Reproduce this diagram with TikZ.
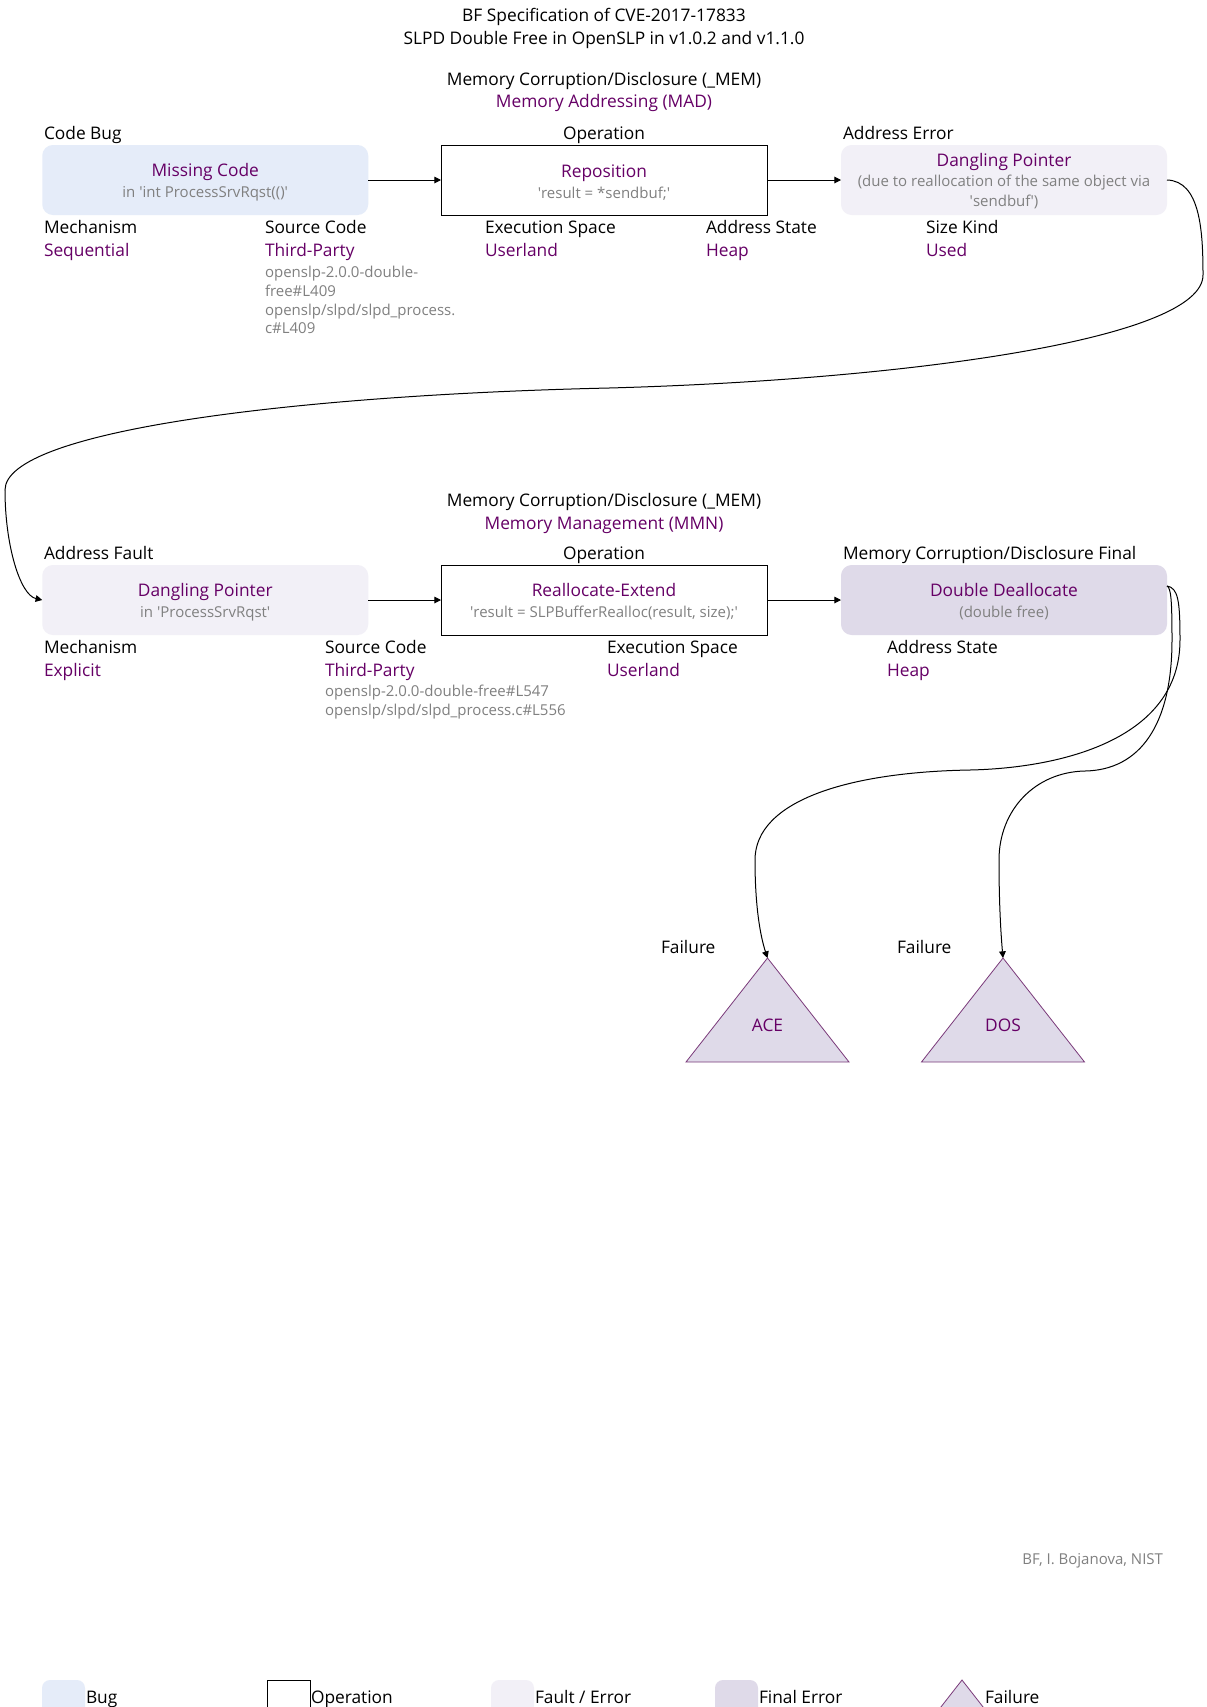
\documentclass[tikz,border=0pt]{standalone}
\usepackage{fontspec}
\setmainfont{Open Sans}
\usetikzlibrary{arrows.meta,calc}
\definecolor{vpurple}{HTML}{660066}
\definecolor{tpurple}{HTML}{7A3A7A}
\definecolor{tgray}{HTML}{808080}
\definecolor{bugfill}{HTML}{E5ECF9}
\definecolor{faultfill}{HTML}{F2F0F7}
\definecolor{finalfill}{HTML}{DFDAE9}
\pgfdeclarelayer{bg}\pgfsetlayers{bg,main}
\newcommand\fA{\fontsize{13pt}{15.75pt}\selectfont}
\newcommand\fB{\fontsize{11.25pt}{15.75pt}\selectfont}
\newcommand\fC{\fontsize{11.25pt}{15.25pt}\selectfont}
\newcommand\sq{\textquotesingle}
\newcommand\boxstrut{\rule{0pt}{12.75pt}}
\begin{document}
\begin{tikzpicture}[x=0.75pt,y=-0.75pt,
  every node/.style={inner sep=0pt, outer sep=0pt},
  lbl/.style={anchor=base west, font=\fA, text=black},
  val/.style={anchor=base west, font=\fA, text=vpurple},
  src/.style={anchor=base west, font=\fB, text=tgray},
  hdr/.style={anchor=base, font=\fA, text=black},
  box/.style={minimum width=326*0.75pt, minimum height=70*0.75pt, align=center, font=\fB, text=tgray},
  bugbox/.style={box, rounded corners=8pt, fill=bugfill},
  faultbox/.style={box, rounded corners=8pt, fill=faultfill},
  finalbox/.style={box, rounded corners=8pt, fill=finalfill},
  opbox/.style={box, draw=black, line width=0.75pt},
  arr/.style={draw=black, line width=0.75pt, -{Triangle[length=5pt,width=5pt]}},
  tri/.style={minimum width=163*0.75pt, minimum height=104*0.75pt},
  tritext/.style={font=\fA, text=vpurple},
  trishape/.style={fill=finalfill, draw=tpurple, line width=0.6pt},
  legsq/.style={minimum width=43*0.75pt, minimum height=43*0.75pt, anchor=north west, rounded corners=6pt},
]
\useasboundingbox (0,0) rectangle (1207,1707);
\clip (0,0) rectangle (1207,1707);
\begin{pgfonlayer}{bg}
\fill[white] (0,0) rectangle (1207,1707);
\end{pgfonlayer}

% titles
\node[hdr] (t1) at (604,21) {BF Specification of CVE-2017-17833};
\node[hdr] (t2) at (604,44) {SLPD Double Free in OpenSLP in v1.0.2 and v1.1.0};

% ---- row 1 ----
\node[hdr] (c1) at (604,85) {Memory Corruption/Disclosure (\_MEM)};
\node[hdr,text=vpurple] (c1b) at (604,107) {Memory Addressing (MAD)};
\node[lbl] (h1a) at (44,139) {Code Bug};
\node[hdr] (h1b) at (604,139) {Operation};
\node[lbl] (h1c) at (843,139) {Address Error};

\node[bugbox] (mc) at (205.25,180) {{\boxstrut\fA\color{vpurple}Missing Code}\\in \sq int ProcessSrvRqst(()\sq};
\node[opbox] (rep) at (604,180) {{\boxstrut\fA\color{vpurple}Reposition}\\\sq result = *sendbuf;\sq};
\node[faultbox,font=\fC] (dp1) at (1004,180) {{\rule{0pt}{11.5pt}\fA\color{vpurple}Dangling Pointer}\\(due to reallocation of the same object via\\\sq sendbuf\sq)};

\node[lbl] (m1) at (44,233) {Mechanism};
\node[val] (m1v) at (44,256) {Sequential};
\node[lbl] (s1) at (265,233) {Source Code};
\node[val] (s1v) at (265,256) {Third-Party};
\node[src] (s1a) at (265,277) {openslp-2.0.0-double-};
\node[src] (s1b) at (265,296) {free\#L409};
\node[src] (s1c) at (265,315) {openslp/slpd/slpd\_process.};
\node[src] (s1d) at (265,333) {c\#L409};
\node[lbl] (e1) at (485,233) {Execution Space};
\node[val] (e1v) at (485,256) {Userland};
\node[lbl] (a1) at (706,233) {Address State};
\node[val] (a1v) at (706,256) {Heap};
\node[lbl] (k1) at (926,233) {Size Kind};
\node[val] (k1v) at (926,256) {Used};

% ---- row 2 ----
\node[hdr] (c2) at (604,506) {Memory Corruption/Disclosure (\_MEM)};
\node[hdr,text=vpurple] (c2b) at (604,529) {Memory Management (MMN)};
\node[lbl] (h2a) at (44,559) {Address Fault};
\node[hdr] (h2b) at (604,559) {Operation};
\node[lbl] (h2c) at (843,559) {Memory Corruption/Disclosure Final};

\node[faultbox] (dp2) at (205.25,600) {{\boxstrut\fA\color{vpurple}Dangling Pointer}\\in \sq ProcessSrvRqst\sq};
\node[opbox] (ra) at (604,600) {{\boxstrut\fA\color{vpurple}Reallocate-Extend}\\\sq result = SLPBufferRealloc(result, size);\sq};
\node[finalbox] (dd) at (1004,600) {{\boxstrut\fA\color{vpurple}Double Deallocate}\\(double free)};

\node[lbl] (m2) at (44,653) {Mechanism};
\node[val] (m2v) at (44,676) {Explicit};
\node[lbl] (s2) at (325,653) {Source Code};
\node[val] (s2v) at (325,676) {Third-Party};
\node[src] (s2a) at (325,696) {openslp-2.0.0-double-free\#L547};
\node[src] (s2b) at (325,715) {openslp/slpd/slpd\_process.c\#L556};
\node[lbl] (e2) at (607,653) {Execution Space};
\node[val] (e2v) at (607,676) {Userland};
\node[lbl] (a2) at (887,653) {Address State};
\node[val] (a2v) at (887,676) {Heap};

% ---- failures ----
\node[lbl] (f1) at (661,953) {Failure};
\node[lbl] (f2) at (897,953) {Failure};
\node[tri] (ace) at (767.5,1010) {};
\node[tri] (dos) at (1003,1010) {};
\begin{pgfonlayer}{bg}
\filldraw[trishape] (ace.north) -- (ace.south east) -- (ace.south west) -- cycle;
\filldraw[trishape] (dos.north) -- (dos.south east) -- (dos.south west) -- cycle;
\end{pgfonlayer}
\node[tritext] (acet) at ($(ace.center)+(0,15)$) {ACE};
\node[tritext] (dost) at ($(dos.center)+(0,15)$) {DOS};

% ---- connectors ----
\draw[arr] (mc.east) -- (rep.west);
\draw[arr] (rep.east) -- (dp1.west);
\draw[arr] (dp1.east) .. controls (1200,181) and (1203,230) .. (1203,275)
  .. controls (1203,340) and (900,380) .. (609,388)
  .. controls (300,395) and (5,430) .. (5,490)
  .. controls (5,545) and (20,595) .. (dp2.west);
\draw[arr] (dp2.east) -- (ra.west);
\draw[arr] (ra.east) -- (dd.west);
\draw[arr] ([yshift=10.5pt]dd.east) .. controls (1178,588) and (1180,600) .. (1180,640)
  .. controls (1180,740) and (1060,768) .. (970,770)
  .. controls (850,772) and (755,800) .. (755,860)
  .. controls (755,905) and (760,935) .. (ace.north);
\draw[arr] ([yshift=10.5pt]dd.east) .. controls (1171,588) and (1172,600) .. (1172,640)
  .. controls (1172,725) and (1140,770) .. (1085,771)
  .. controls (1035,772) and (999,810) .. (999,860)
  .. controls (999,905) and (1001,935) .. (dos.north);

% ---- footer ----
\node[anchor=base east, font=\fB, text=tgray] (ft) at (1163,1564) {BF, I. Bojanova, NIST};

% ---- legend ----
\node[legsq, fill=bugfill] (lg1) at (42,1680) {};
\node[lbl] (lg1t) at (86,1703) {Bug};
\node[legsq, rounded corners=0pt, draw=black, line width=0.75pt] (lg2) at (267,1680) {};
\node[lbl] (lg2t) at (311,1703) {Operation};
\node[legsq, fill=faultfill] (lg3) at (491,1680) {};
\node[lbl] (lg3t) at (535,1703) {Fault / Error};
\node[legsq, fill=finalfill] (lg4) at (715,1680) {};
\node[lbl] (lg4t) at (759,1703) {Final Error};
\node[minimum width=86*0.75pt, minimum height=55*0.75pt, anchor=north] (lg5) at (962,1680) {};
\begin{pgfonlayer}{bg}
\filldraw[trishape] (lg5.north) -- (lg5.south east) -- (lg5.south west) -- cycle;
\end{pgfonlayer}
\node[lbl] (lg5t) at (985,1703) {Failure};
\end{tikzpicture}
\end{document}
